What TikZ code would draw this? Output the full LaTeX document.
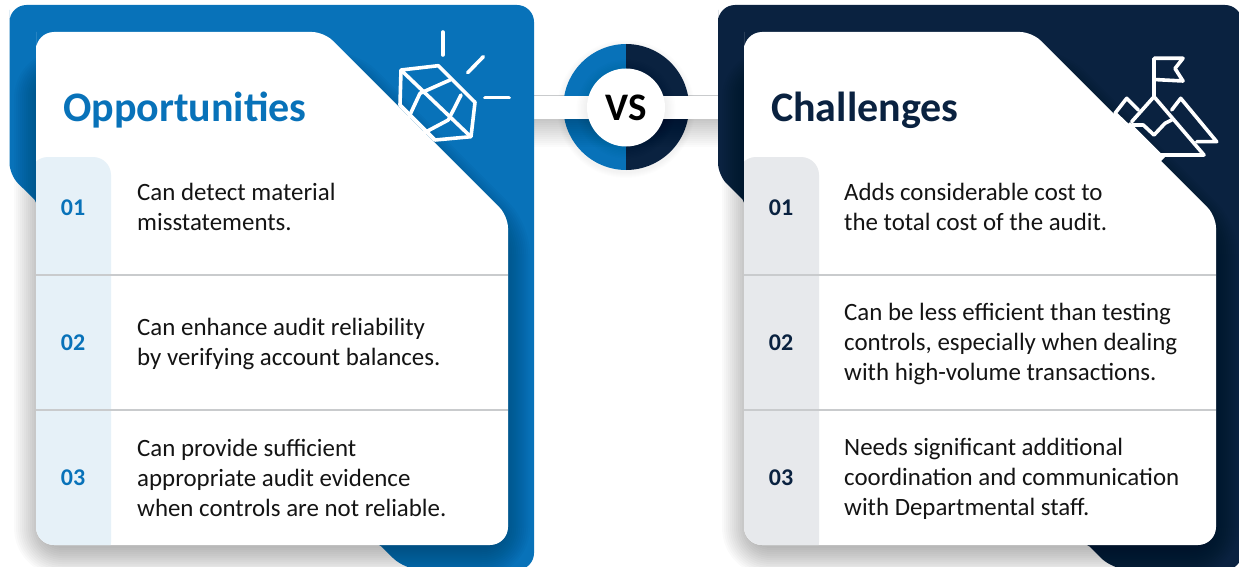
\documentclass[tikz,border=0pt]{standalone}
\usepackage{fontspec}
\setmainfont{Carlito}
\definecolor{oblue}{HTML}{0872B9}
\definecolor{cnavy}{HTML}{0A2240}
\definecolor{olight}{HTML}{E6F1F8}
\definecolor{clight}{HTML}{E7E9EC}
\definecolor{rulegrey}{HTML}{C9CBCD}
\definecolor{bodyink}{HTML}{141414}
\tikzset{
  x=1pt,y=-1pt,
  titletext/.style={anchor=base west,inner sep=0pt,font=\fontsize{42}{42}\selectfont\bfseries},
  numtext/.style={anchor=center,inner sep=0pt,font=\fontsize{24}{24}\selectfont\bfseries},
  bodytext/.style={anchor=west,inner sep=0pt,align=left,text=bodyink,font=\fontsize{24.9}{30}\selectfont},
  iconline/.style={white,line width=3.6pt,line join=round,line cap=round},
  softshadow/.style={draw=black,draw opacity=0.02,line join=round},
}
\newcommand{\drawpanel}[5]{%
  % #1 prefix, #2 strong colour, #3 light colour, #4 x shift, #5 panel left edge
  \begin{scope}[xshift=#4]
    \fill[#2] (#5,22) [rounded corners=17] -- (#5,5) -- (534,5) -- (534,570) -- (405,570) [rounded corners=2] -- (380,545) -- (200,500) -- (60,500) -- (36,201) [rounded corners=12] -- (#5,175) -- cycle;
    \foreach \w in {4,8,...,60}{
      \path[softshadow,line width=\w pt,rounded corners=18] (44,80) -- (344,80) -- (500,236) -- (500,546) -- (44,546) -- cycle;
    }
    \begin{scope}
      \clip (36,50) [rounded corners=18] -- (36,32) [rounded corners=12] -- (324,32) -- (508,216) [rounded corners=18] -- (508,545) -- (36,545) -- cycle;
      \fill[white] (30,28) rectangle (515,550);
      \fill[#3,rounded corners=18] (30,157) -- (111,157) -- (111,560) -- (30,560) -- cycle;
      \draw[rulegrey,line width=1.3pt] (36,275) -- (508,275);
      \draw[rulegrey,line width=1.3pt] (36,410) -- (508,410);
    \end{scope}
    \node[numtext,text=#2] (#1n1) at (73,208) {01};
    \node[numtext,text=#2] (#1n2) at (73,343) {02};
    \node[numtext,text=#2] (#1n3) at (73,478) {03};
  \end{scope}
}
\begin{document}
\begin{tikzpicture}
\useasboundingbox (0,0) rectangle (1239,567);
\clip (0,0) rectangle (1239,567);
\fill[white] (0,0) rectangle (1239,567);

% centre band and ring
\draw[rulegrey,line width=1pt] (530,95.5) -- (720,95.5);
\foreach \i in {1,2,...,6}{
  \fill[black,opacity=0.006] (626,109) circle ({63+\i});
}
\fill[oblue] (626.3,44) arc[start angle=-90,end angle=-270,radius=63] -- cycle;
\fill[cnavy] (626,44) arc[start angle=-90,end angle=90,radius=63] -- cycle;
\fill[white] (530,96) rectangle (722,119);
\foreach \i in {1,2,...,14}{
  \fill[black,opacity=0.017] (530,119) rectangle (722,{119+2*\i});
}
\foreach \i in {1,2,...,7}{
  \fill[black,opacity=0.009] (626,109) circle ({39+1.5*\i});
}
\node[circle,fill=white,minimum size=78pt,inner sep=0pt] (vsdisc) at (626,107.5) {};
\node[inner sep=0pt,font=\fontsize{39}{39}\selectfont\bfseries,text=black] (vs) at (vsdisc.center) {VS};

% panels
\drawpanel{o}{oblue}{olight}{0}{9.5}
\drawpanel{c}{cnavy}{clight}{708}{10}

% titles
\node[titletext,text=oblue] (otitle) at (63,122) {Opportunities};
\node[titletext,text=cnavy] (ctitle) at (771,122) {Challenges};

% left body
\node[bodytext] (ot1) at (137,207) {Can detect material\\misstatements.};
\node[bodytext] (ot2) at (137,343.5) {Can enhance audit reliability\\by verifying account balances.};
\node[bodytext] (ot3) at (137,477.5) {Can provide sufficient\\appropriate audit evidence\\when controls are not reliable.};
% right body
\node[bodytext] (ct1) at (844,207) {Adds considerable cost to\\the total cost of the audit.};
\node[bodytext] (ct2) at (844,343.5) {Can be less efficient than testing\\controls, especially when dealing\\with high-volume transactions.};
\node[bodytext] (ct3) at (844,478.5) {Needs significant additional\\coordination and communication\\with Departmental staff.};

% gem icon
\draw[iconline] (401,70) -- (438.3,65.7) -- (475,102.3) -- (471,136.7) -- (435,140) -- (400,105) -- cycle;
\draw[iconline] (403,72) -- (469,135);
\draw[iconline] (420,93.3) -- (450,80);
\draw[iconline] (420,93.3) -- (408.3,118.3);
\draw[iconline] (461,95) -- (448.3,120);
\draw[iconline] (448.3,120) -- (423.3,133.3);
\draw[iconline] (442.7,32) -- (442.7,55);
\draw[iconline] (467.7,72.7) -- (483.3,56.7);
\draw[iconline] (485,97.7) -- (509,97.7);

% summit icon
\draw[iconline] (1154,96.7) -- (1154,58.3) -- (1183,58.3) -- (1175,68.5) -- (1183,81) -- (1154,79.5);
\draw[iconline] (1131.7,121.7) -- (1154,96.7) -- (1204,155) -- (1160,155);
\draw[white,line width=8pt] (1127,125) -- (1162,160);
\draw[iconline] (1131.7,125) -- (1143.3,125) -- (1154,135) -- (1165,123.3) -- (1171.7,120);
\draw[iconline] (1171.7,110) -- (1180.7,98.3) -- (1216.7,141.7) -- (1196.7,141.7);
\draw[iconline] (1138.3,110) -- (1126.7,98.3) -- (1115,113.3) -- (1128.3,126);
\end{tikzpicture}
\end{document}
